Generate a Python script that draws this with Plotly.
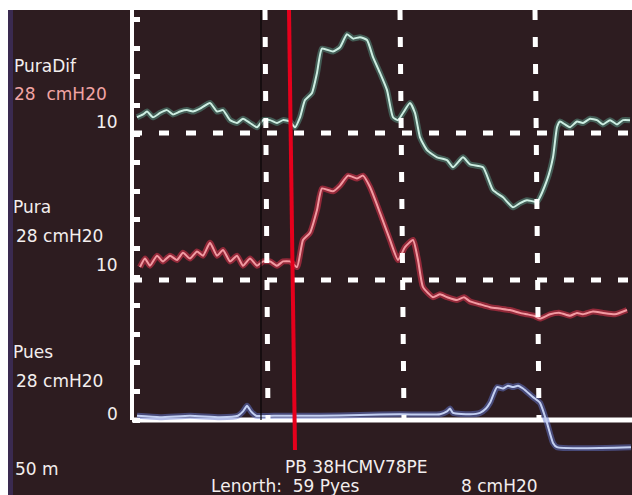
import plotly.graph_objects as go

# ---------------- data (time in s, pressures in cmH2O) ----------------
puradif_t = [1.0, 2.2, 3.0, 4.2, 5.6, 7.0, 8.2, 9.6, 11.0, 12.2, 13.6, 15.6, 17.0, 18.2, 19.6, 21.0,
             22.2, 23.6, 25.0, 26.2, 27.6, 29.0, 30.2, 31.6, 32.6, 33.6, 34.6, 36.0, 37.0, 38.0, 40.2,
             41.6, 43.0, 44.2, 45.6, 47.0, 48.2, 49.6, 51.0, 52.2, 53.2, 54.2, 55.6, 56.6, 57.6, 59.0,
             61.0, 63.0, 64.2, 66.2, 67.6, 70.2, 72.2, 74.2, 76.2, 77.6, 79.0, 81.0, 83.0, 84.2, 85.0,
             85.6, 86.6, 87.6, 89.0, 90.2, 91.6, 93.0, 94.2, 95.6, 97.0, 98.2, 99.6]
puradif_v = [11.1, 11.3, 11.5, 11.1, 11.4, 11.6, 11.3, 11.5, 11.6, 11.5, 11.7, 12.1, 11.5, 11.6, 10.9, 10.7,
             11.0, 10.7, 10.4, 10.9, 10.9, 10.7, 10.9, 10.8, 10.4, 11.1, 12.3, 12.8, 14.2, 15.9, 15.7,
             16.0, 16.9, 16.6, 16.7, 16.5, 15.3, 14.2, 13.0, 11.1, 10.9, 11.4, 12.1, 11.4, 9.7, 8.8,
             8.3, 8.1, 7.6, 8.3, 7.8, 7.6, 6.0, 5.5, 4.8, 5.1, 5.3, 5.2, 6.7, 8.3, 10.4,
             10.8, 10.6, 10.4, 10.8, 10.7, 11.0, 10.9, 10.6, 10.9, 10.6, 10.9, 10.9]

pura_t = [1.6, 2.6, 3.6, 5.0, 6.2, 7.6, 9.0, 10.2, 11.6, 13.0, 14.2, 15.6, 17.0, 18.2, 19.6, 21.0,
          22.2, 23.6, 25.0, 26.2, 27.6, 29.0, 30.2, 31.6, 33.0, 34.2, 35.6, 37.0, 38.0, 40.2, 41.6,
          43.2, 45.0, 46.2, 47.6, 49.6, 51.6, 53.2, 54.6, 56.2, 57.2, 58.2, 60.2, 61.6, 63.0, 65.0,
          66.4, 67.6, 69.6, 71.6, 73.6, 75.6, 77.6, 79.0, 80.4, 81.6, 83.6, 85.6, 87.6, 89.0, 90.2,
          92.2, 94.2, 96.6, 99.0]
pura_v = [10.9, 11.5, 11.0, 11.7, 11.3, 11.7, 11.4, 11.9, 11.5, 12.0, 11.7, 12.6, 11.7, 12.1, 11.3, 11.7,
          11.0, 11.5, 11.0, 11.3, 11.3, 11.0, 11.3, 11.3, 10.9, 12.8, 13.3, 14.9, 16.4, 16.2, 16.6,
          17.3, 17.1, 17.3, 16.5, 14.7, 12.8, 11.4, 12.3, 12.8, 11.4, 9.5, 8.8, 9.0, 8.8, 8.6,
          8.8, 8.5, 8.3, 8.1, 8.0, 7.9, 7.7, 7.6, 7.5, 7.3, 7.6, 7.7, 7.5, 7.7, 7.6,
          7.8, 7.7, 7.6, 7.9]

pues_t = [1.0, 5.6, 11.6, 17.6, 21.2, 22.2, 23.0, 23.8, 24.8, 29.6, 37.6, 45.6, 53.6, 61.6, 63.0,
          63.6, 64.2, 67.6, 69.6, 70.8, 71.6, 73.0, 74.2, 75.2, 76.2, 77.2, 78.2, 80.2, 81.6, 83.0,
          84.2, 85.0, 99.8]
pues_v = [0.3, 0.2, 0.3, 0.2, 0.3, 0.6, 1.0, 0.6, 0.3, 0.3, 0.3, 0.35, 0.4, 0.4, 0.6,
          0.8, 0.5, 0.4, 0.5, 0.8, 1.2, 2.3, 2.2, 2.4, 2.3, 2.4, 2.2, 1.6, 1.2, -0.2,
          -1.6, -1.9, -1.9]

event_top = [26.6, 53.6, 80.6]      # dashed event markers (time at top / bottom)
event_bottom = [27.2, 54.4, 81.4]
thin_marker_t = 25.8
cursor_top, cursor_bottom = 31.4, 32.6
ref_level = 10                      # cmH2O reference lines
tick_values = list(range(0, 29, 2))

# ---------------- geometry helpers (pixel -> axis units) ----------------
W, H = 632, 495
def px2t(px):
    return (px - 132) / 5.0
def py2v(py):             # Pues axis
    return (420 - py) / 14.3
def py2v_pura(py):
    return 10 + (280 - py) / 14.3
def py2v_dif(py):
    return 10 + (133 - py) / 14.3

BG = "#2d1c20"
FONT = "DejaVu Sans"

fig = go.Figure()

def add_trace(t, v, yaxis, glow, core):
    fig.add_trace(go.Scatter(x=t, y=v, yaxis=yaxis, mode="lines",
                             line=dict(color=glow, width=6, shape="spline", smoothing=0.5),
                             hoverinfo="skip", showlegend=False))
    fig.add_trace(go.Scatter(x=t, y=v, yaxis=yaxis, mode="lines",
                             line=dict(color=core, width=2, shape="spline", smoothing=0.5),
                             hoverinfo="skip", showlegend=False))

add_trace(puradif_t, puradif_v, "y3", "rgba(95,170,150,0.45)", "#cdeee2")
add_trace(pura_t, pura_v, "y2", "rgba(215,50,75,0.6)", "#f29aa2")
add_trace(pues_t, pues_v, "y", "rgba(100,120,210,0.5)", "#c4d0f2")

shapes = []
top_v = py2v(10)
# white strips (page edge)
shapes.append(dict(type="rect", xref="x", yref="y", x0=px2t(0), x1=px2t(632), y0=py2v(0), y1=py2v(10),
                   fillcolor="white", line=dict(width=0), layer="above"))
shapes.append(dict(type="rect", xref="x", yref="y", x0=px2t(0), x1=px2t(8), y0=py2v(495), y1=py2v(0),
                   fillcolor="white", line=dict(width=0), layer="above"))
shapes.append(dict(type="rect", xref="x", yref="y", x0=px2t(8), x1=px2t(13), y0=py2v(495), y1=py2v(10),
                   fillcolor="rgba(70,55,120,0.55)", line=dict(width=0), layer="below"))
# axes lines
shapes.append(dict(type="line", xref="x", yref="y", x0=0, x1=0, y0=0, y1=top_v,
                   line=dict(color="white", width=4), layer="below"))
shapes.append(dict(type="line", xref="x", yref="y", x0=0, x1=px2t(632), y0=0, y1=0,
                   line=dict(color="white", width=5), layer="below"))
# horizontal reference dashed lines
shapes.append(dict(type="line", xref="x", yref="y3", x0=0, x1=px2t(632), y0=ref_level, y1=ref_level,
                   line=dict(color="white", width=5, dash="10px,17px"), layer="above"))
shapes.append(dict(type="line", xref="x", yref="y2", x0=0, x1=px2t(632), y0=ref_level, y1=ref_level,
                   line=dict(color="white", width=5, dash="10px,17px"), layer="above"))
# vertical event dashed lines
for a, b in zip(event_top, event_bottom):
    shapes.append(dict(type="line", xref="x", yref="y", x0=a, x1=b, y0=top_v, y1=0,
                       line=dict(color="white", width=5, dash="10px,17px"), layer="above"))
# thin black marker
shapes.append(dict(type="line", xref="x", yref="y", x0=thin_marker_t, x1=thin_marker_t, y0=top_v, y1=0,
                   line=dict(color="#080406", width=1.2), layer="above"))
# red cursor
shapes.append(dict(type="line", xref="x", yref="y", x0=cursor_top, x1=cursor_bottom, y0=top_v, y1=py2v(450),
                   line=dict(color="#e5001c", width=4), layer="above"))

ann = []
def label(text, px, py, color="#f3eeee", anchor="left", size=17):
    ann.append(dict(text=text, x=px2t(px), y=py2v(py), xref="x", yref="y", showarrow=False,
                    xanchor=anchor, yanchor="middle", font=dict(family=FONT, size=size, color=color)))

label("PuraDif", 12, 66)
label("28\u00a0\u00a0cmH20", 12, 94, color="#f2a4a4")
label("10", 120, 122, anchor="right")
label("Pura", 11, 207)
label("28 cmH20", 14, 236)
label("10", 120, 265, anchor="right")
label("Pues", 11, 352)
label("28 cmH20", 14, 381)
label("0", 120, 414, anchor="right")
label("50 m", 13, 469)
label("PB 38HCMV78PE", 283, 467)
label("Lenorth:\u00a0\u00a059 Pyes", 209, 486)
label("8 cmH20", 459, 486)

fig.update_layout(
    width=W, height=H,
    margin=dict(l=0, r=0, t=0, b=0),
    paper_bgcolor=BG, plot_bgcolor=BG,
    showlegend=False,
    shapes=shapes, annotations=ann,
    xaxis=dict(range=[px2t(0), px2t(632)], visible=False, domain=[0, 1]),
    yaxis=dict(range=[py2v(495), py2v(0)], anchor="free", position=132 / 632, side="left",
               showline=False, showgrid=False, zeroline=False, showticklabels=False,
               ticks="inside", tickvals=tick_values, ticklen=7, tickwidth=5, tickcolor="white"),
    yaxis2=dict(range=[py2v_pura(495), py2v_pura(0)], overlaying="y", visible=False),
    yaxis3=dict(range=[py2v_dif(495), py2v_dif(0)], overlaying="y", visible=False),
)

fig.write_html("out.html")
